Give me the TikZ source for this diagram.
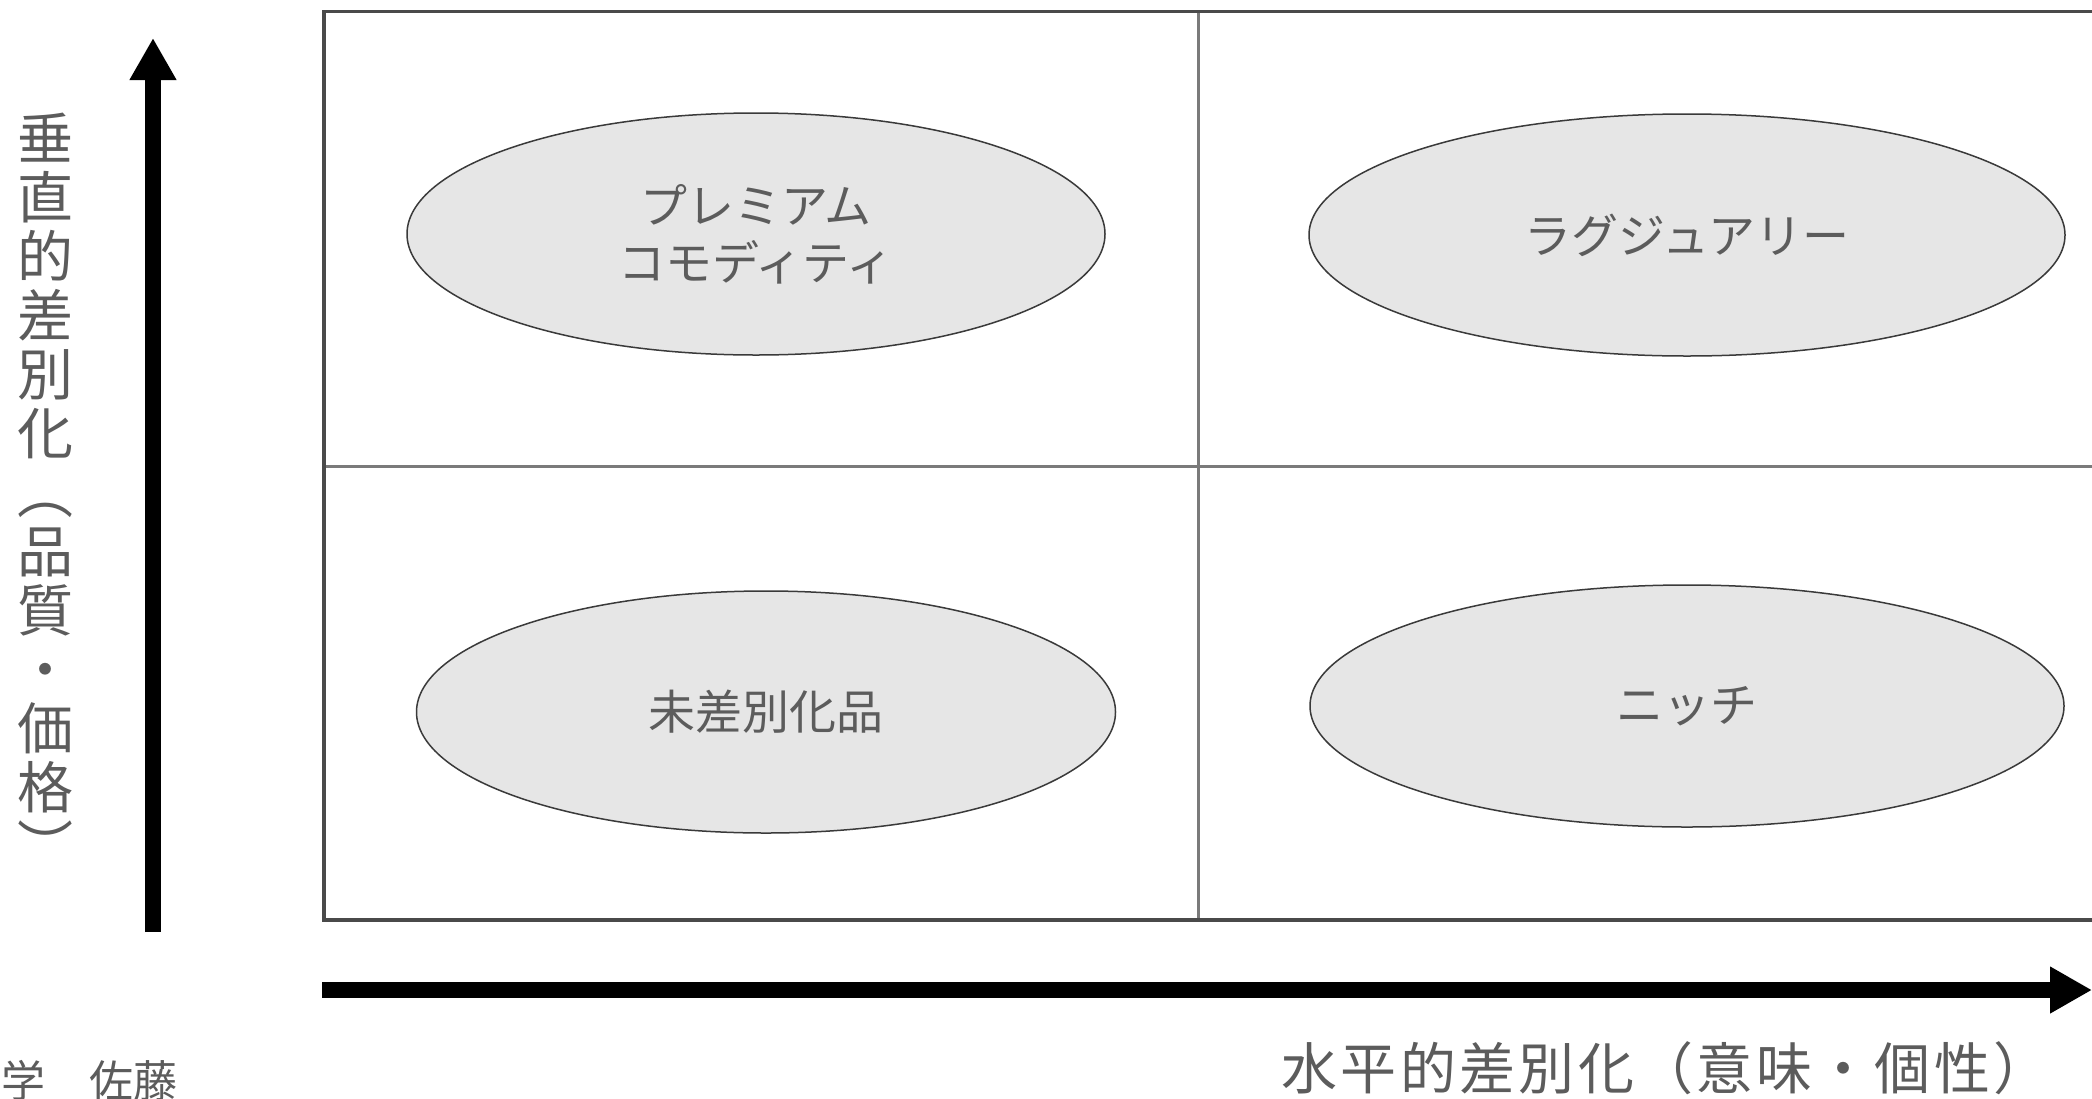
\documentclass[tikz,border=0pt]{standalone}
\usepackage{fontspec}
\newfontfamily\cjk{Noto Sans CJK JP}
\usetikzlibrary{shapes.geometric,arrows.meta}
\definecolor{ellfill}{HTML}{E6E6E6}
\definecolor{ellline}{HTML}{3A3A3A}
\definecolor{txt}{HTML}{5C5C5C}
\definecolor{boxline}{HTML}{4A4A4A}
\definecolor{gridline}{HTML}{7A7A7A}
\tikzset{
  quad/.style={ellipse, draw=ellline, fill=ellfill, line width=0.75pt, inner sep=0pt,
    minimum height=121pt, text=txt, align=center,
    font={\cjk\fontsize{23.5pt}{28.5pt}\selectfont}},
  axisarrow/.style={line width=8pt, -{Triangle[length=21pt, width=22pt]}},
  axislabel/.style={text=txt, inner sep=0pt, font={\cjk\fontsize{28pt}{29.5pt}\selectfont}, align=center}
}
\begin{document}
\begin{tikzpicture}[x=0.5pt,y=-0.5pt]
\useasboundingbox (0,0) rectangle (2092,1098);
\clip (0,0) rectangle (2092,1098);
\fill[white] (0,0) rectangle (2092,1098);
% grid
\coordinate (bl) at (324,920);
\coordinate (tr) at (2110,11.5);
\coordinate (mt) at (1198,11.5);
\coordinate (mb) at (1198,920);
\coordinate (ml) at (324,466);
\coordinate (mr) at (2110,466);
\draw[gridline, line width=1.5pt] (mt) -- (mb);
\draw[gridline, line width=1.5pt] (ml) -- (mr);
\draw[boxline, line width=1.6pt] (bl) rectangle (tr);
% ellipses
\node[quad, minimum width=349pt] (prem) at (756,234) {プレミアム\\コモディティ};
\node[quad, minimum width=378pt] (lux) at (1687,235) {ラグジュアリー};
\node[quad, minimum width=349.5pt] (undiff) at (766,712) {未差別化品};
\node[quad, minimum width=377pt] (niche) at (1687,706) {ニッチ};
% axes
\coordinate (vb) at (153,932);
\coordinate (vt) at (153,38);
\coordinate (hl) at (322,990);
\coordinate (hr) at (2092,990);
\draw[axisarrow] (vb) -- (vt);
\draw[axisarrow] (hl) -- (hr);
% labels
\node[axislabel, anchor=north] (vlab) at (46,113) {垂\\直\\的\\差\\別\\化\\︵\\品\\質\\・\\価\\格\\︶};
\node[axislabel, anchor=west, font={\cjk\fontsize{28pt}{29.5pt}\selectfont\addfontfeature{LetterSpace=6}}] (hlab) at (1281,1068) {水平的差別化（意味・個性）};
\node[text=txt, inner sep=0pt, anchor=north west, font={\cjk\fontsize{22pt}{26pt}\selectfont}] (auth) at (1,1060) {学　佐藤};
\end{tikzpicture}
\end{document}
